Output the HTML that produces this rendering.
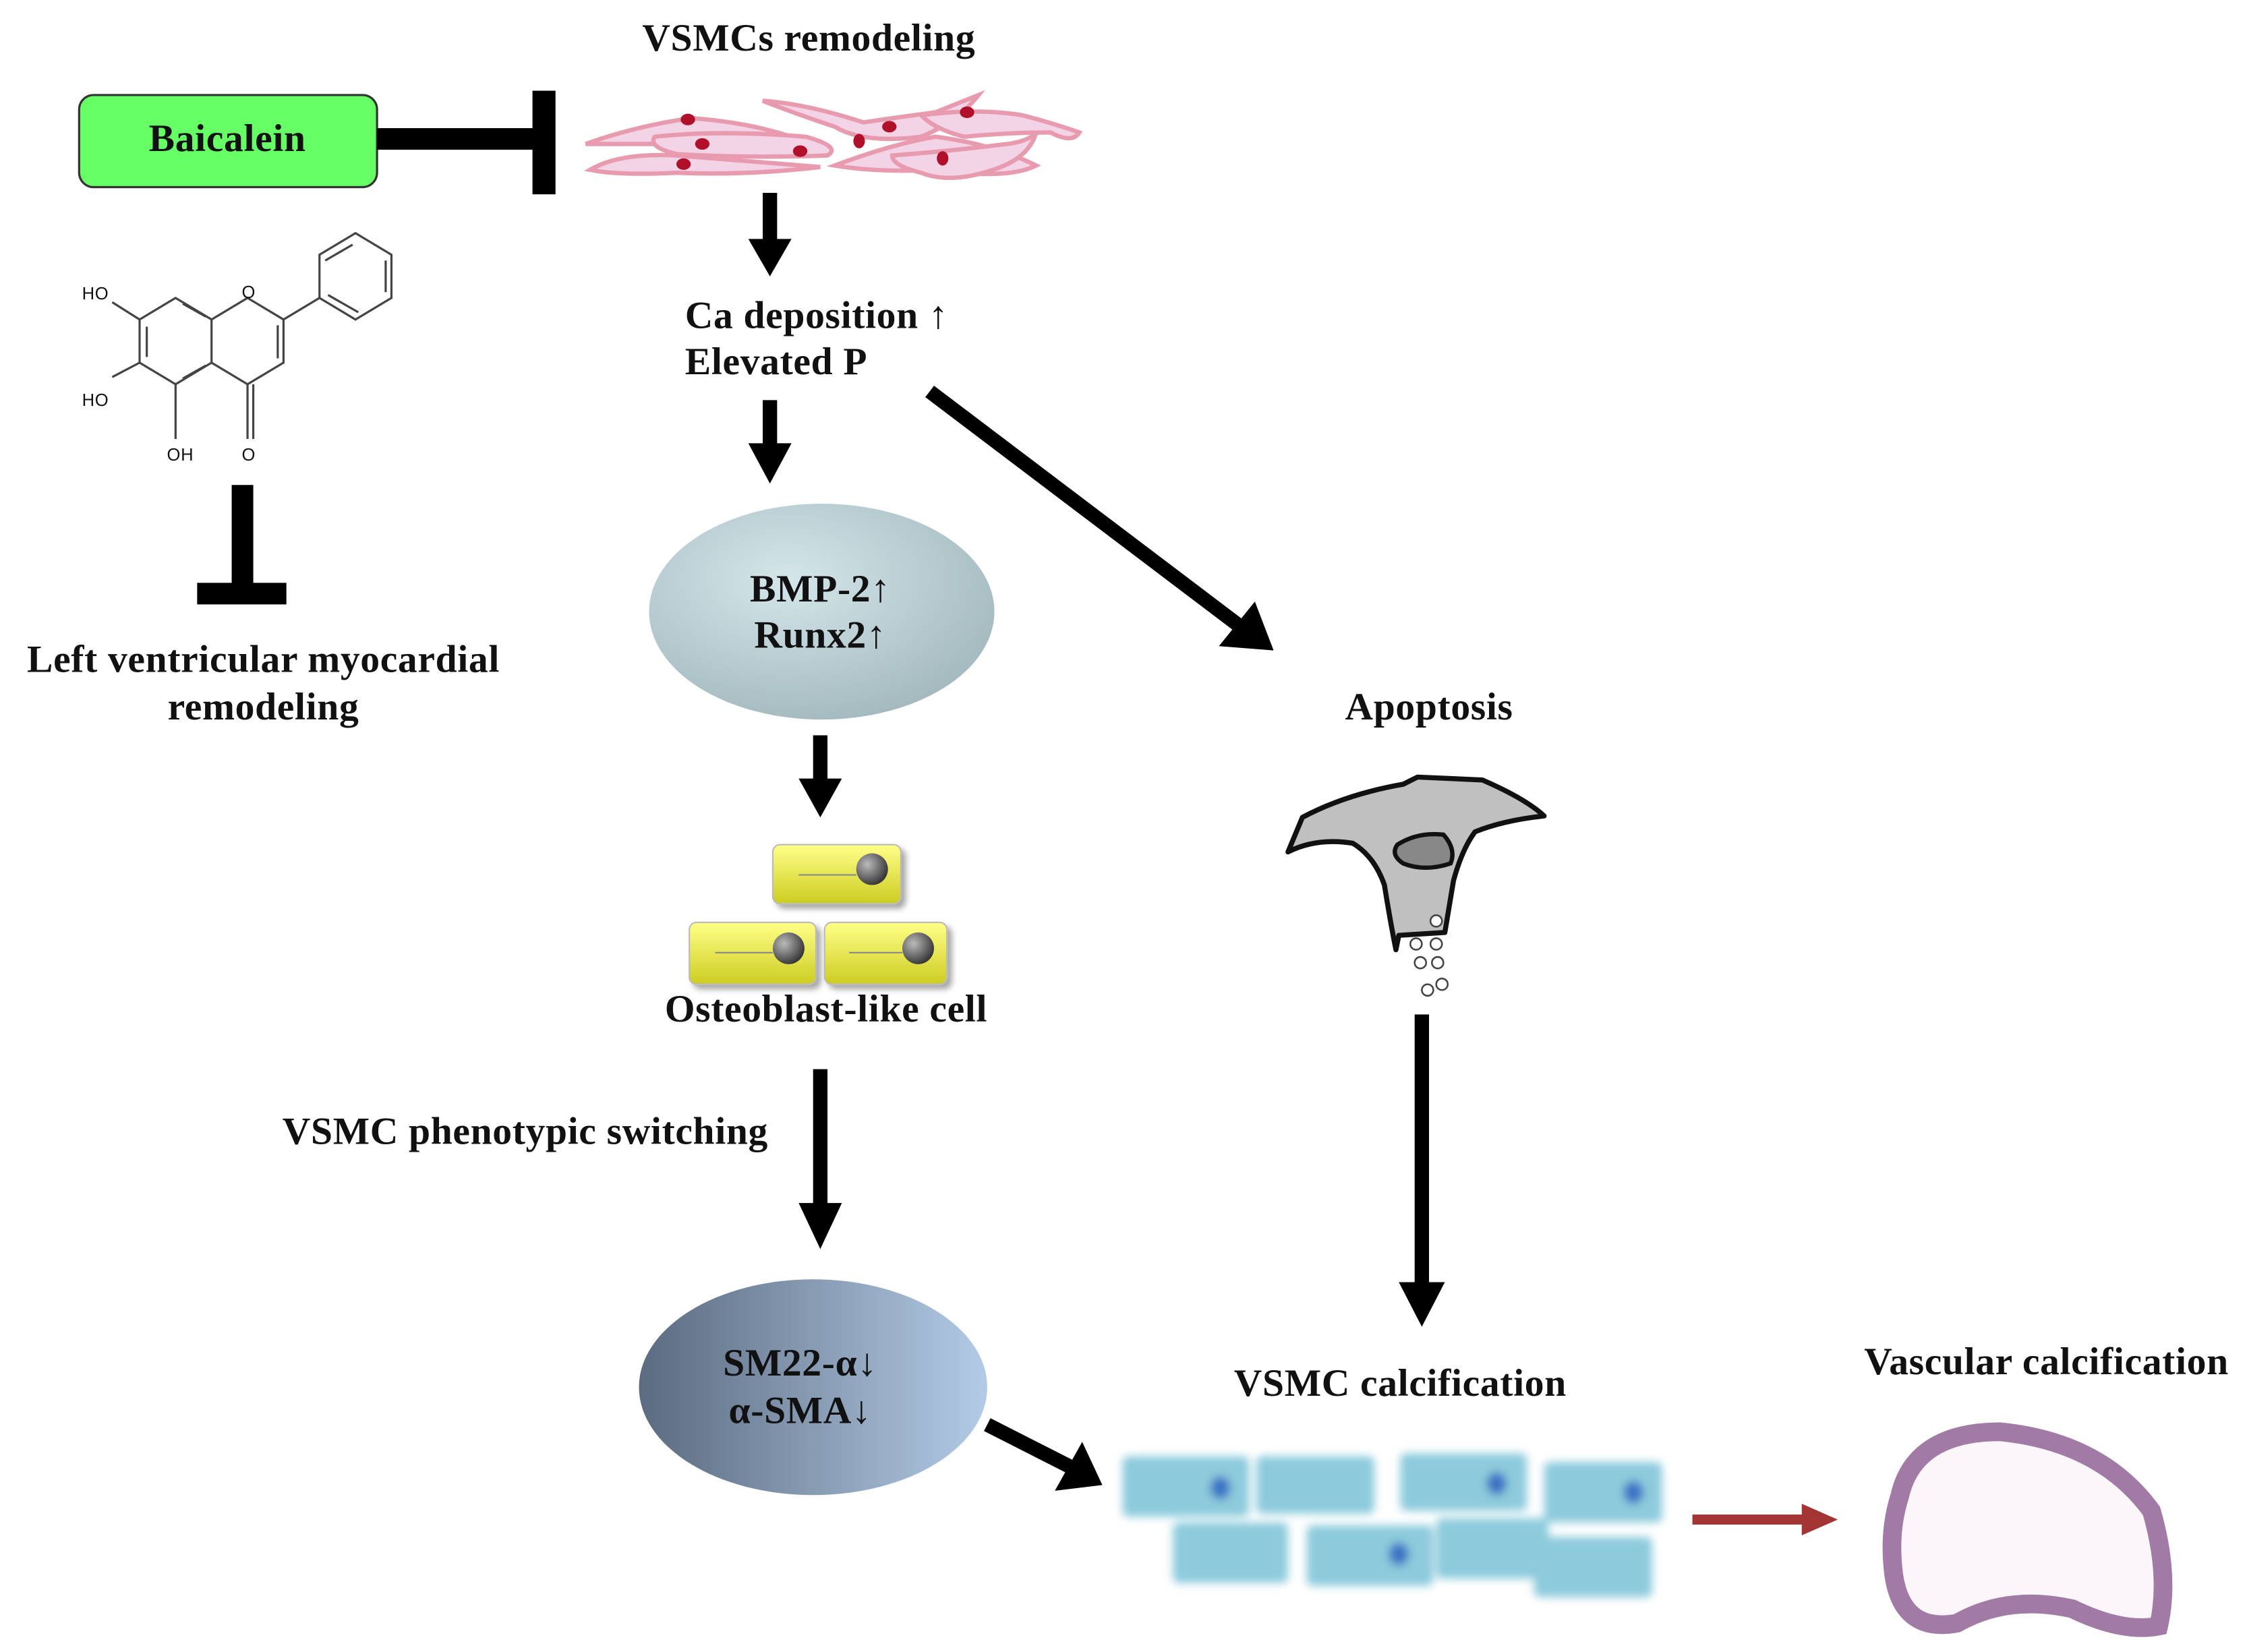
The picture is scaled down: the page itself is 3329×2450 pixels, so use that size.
<!DOCTYPE html>
<html><head><meta charset="utf-8"><style>
html,body{margin:0;padding:0;background:#fff;}
svg{display:block;}
text{font-family:"Liberation Serif",serif;font-weight:bold;fill:#111;letter-spacing:0.3px;}
</style></head><body>
<svg width="3329" height="2450" viewBox="0 0 1560 1148" xmlns="http://www.w3.org/2000/svg">
<defs>
<radialGradient id="g1" cx="0.4" cy="0.35" r="0.75"><stop offset="0" stop-color="#d4e6ea"/><stop offset="1" stop-color="#9fb5bb"/></radialGradient>
<linearGradient id="g2" x1="0" x2="1"><stop offset="0" stop-color="#5b6b80"/><stop offset="1" stop-color="#b3cbe6"/></linearGradient>
<linearGradient id="gy" x1="0" y1="0" x2="0" y2="1"><stop offset="0" stop-color="#ffff88"/><stop offset="1" stop-color="#cccc22"/></linearGradient>
<radialGradient id="gs" cx="0.35" cy="0.35" r="0.7"><stop offset="0" stop-color="#bbb"/><stop offset="1" stop-color="#333"/></radialGradient>
<filter id="bl"><feGaussianBlur stdDeviation="3"/></filter>
<filter id="sh"><feDropShadow dx="3" dy="3" stdDeviation="2" flood-opacity="0.35"/></filter>
</defs>

<text x="562" y="35" font-size="27" text-anchor="middle">VSMCs remodeling</text>

<rect x="55" y="66" width="207" height="64" rx="10" fill="#66ff66" stroke="#333" stroke-width="1.5"/>
<text x="158" y="105" font-size="27" text-anchor="middle">Baicalein</text>
<rect x="262" y="89" width="110" height="15" fill="#000"/>
<rect x="370" y="63" width="16" height="72" fill="#000"/>

<g fill="#f3d3e6" stroke="#e89aae" stroke-width="3">
<path d="M407,100 Q440,88 480,82 Q520,85 550,95 Q520,104 480,100 Q440,100 407,100z"/>
<path d="M455,95 Q500,90 560,95 Q585,102 575,108 Q520,110 470,107 Q450,102 455,95z"/>
<path d="M410,118 Q430,106 470,108 Q520,112 570,116 Q520,122 470,120 Q430,122 410,118z"/>
<path d="M530,70 Q560,72 600,85 Q620,82 650,78 Q670,70 680,66 Q665,85 640,95 Q600,100 580,88 Q550,78 530,70z"/>
<path d="M580,115 Q620,100 650,95 Q690,100 720,115 Q700,125 650,118 Q610,120 580,115z"/>
<path d="M640,80 Q680,75 710,80 Q730,85 750,92 Q745,100 730,92 Q700,92 670,95 Q650,90 640,80z"/>
<path d="M620,108 Q660,105 700,100 Q715,98 720,92 Q715,110 690,118 Q660,128 640,120 Q620,115 620,108z"/>
</g>
<g fill="#b0102a">
<ellipse cx="478" cy="83" rx="5" ry="4"/><ellipse cx="488" cy="100" rx="5" ry="4"/><ellipse cx="475" cy="114" rx="5" ry="4"/>
<ellipse cx="597" cy="98" rx="4" ry="5"/><ellipse cx="618" cy="88" rx="5" ry="4"/><ellipse cx="672" cy="78" rx="5" ry="4"/>
<ellipse cx="556" cy="105" rx="5" ry="4"/><ellipse cx="655" cy="110" rx="4" ry="5"/>
</g>

<line x1="535" y1="134" x2="535" y2="170" stroke="#000" stroke-width="10"/>
<path d="M520,166 L550,166 L535,192z" fill="#000"/>
<text x="476" y="228" font-size="27">Ca deposition ↑</text>
<text x="476" y="260" font-size="27">Elevated P</text>
<line x1="535" y1="278" x2="535" y2="312" stroke="#000" stroke-width="10"/>
<path d="M520,308 L550,308 L535,336z" fill="#000"/>
<line x1="646" y1="272" x2="860" y2="434" stroke="#000" stroke-width="10"/>
<path d="M847,449 L872,418 L885,452z" fill="#000"/>

<ellipse cx="571" cy="425" rx="120" ry="75" fill="url(#g1)"/>
<text x="570" y="418" font-size="27" text-anchor="middle">BMP-2↑</text>
<text x="570" y="450" font-size="27" text-anchor="middle">Runx2↑</text>

<g stroke="#444" stroke-width="1.5" fill="none">
<path d="M97,222 L122,207 L147,222 L147,252 L122,267 L97,252 z"/>
<path d="M102,227 L102,248 M127,211 L143,220 M127,263 L143,254"/>
<path d="M147,222 L172,207 L197,222 L197,252 L172,267 L147,252"/>
<path d="M193,226 L193,249"/>
<path d="M197,222 L222,207"/>
<path d="M222,207 L222,177 L247,162 L272,177 L272,207 L247,222 z"/>
<path d="M226,181 L245,170 M268,181 L268,203 M249,217 L228,205"/>
<path d="M172,267 L172,305 M176,267 L176,305"/>
<path d="M122,267 L122,305"/>
<path d="M97,252 L78,262"/>
<path d="M97,222 L78,210"/>
</g>
<g>
<text x="57" y="208" style="font-family:'Liberation Sans',sans-serif;font-weight:normal;font-size:12px">HO</text>
<text x="57" y="282" style="font-family:'Liberation Sans',sans-serif;font-weight:normal;font-size:12px">HO</text>
<text x="116" y="320" style="font-family:'Liberation Sans',sans-serif;font-weight:normal;font-size:12px">OH</text>
<text x="168" y="320" style="font-family:'Liberation Sans',sans-serif;font-weight:normal;font-size:12px">O</text>
<text x="168" y="207" style="font-family:'Liberation Sans',sans-serif;font-weight:normal;font-size:12px">O</text>
</g>

<rect x="161" y="337" width="15" height="72" fill="#000"/>
<rect x="137" y="405" width="62" height="15" fill="#000"/>
<text x="183" y="467" font-size="27" text-anchor="middle">Left ventricular myocardial</text>
<text x="183" y="500" font-size="27" text-anchor="middle">remodeling</text>

<line x1="570" y1="511" x2="570" y2="545" stroke="#000" stroke-width="10"/>
<path d="M555,541 L585,541 L570,568z" fill="#000"/>

<g filter="url(#sh)">
<rect x="537" y="587" width="89" height="41" rx="5" fill="url(#gy)" stroke="#bbb"/>
<rect x="479" y="641" width="88" height="43" rx="5" fill="url(#gy)" stroke="#bbb"/>
<rect x="573" y="641" width="85" height="43" rx="5" fill="url(#gy)" stroke="#bbb"/>
</g>
<g stroke="#888" stroke-width="1"><line x1="555" y1="608" x2="595" y2="608"/><line x1="497" y1="662" x2="537" y2="662"/><line x1="590" y1="662" x2="627" y2="662"/></g>
<circle cx="606" cy="604" r="11" fill="url(#gs)"/>
<circle cx="548" cy="659" r="11" fill="url(#gs)"/>
<circle cx="638" cy="659" r="11" fill="url(#gs)"/>
<text x="574" y="710" font-size="27" text-anchor="middle">Osteoblast-like cell</text>

<line x1="570" y1="743" x2="570" y2="840" stroke="#000" stroke-width="10"/>
<path d="M555,836 L585,836 L570,868z" fill="#000"/>
<text x="365" y="795" font-size="27" text-anchor="middle">VSMC phenotypic switching</text>

<ellipse cx="565" cy="964" rx="121" ry="75" fill="url(#g2)"/>
<text x="556" y="956" font-size="27" text-anchor="middle">SM22-α↓</text>
<text x="556" y="989" font-size="27" text-anchor="middle">α-SMA↓</text>
<line x1="686" y1="990" x2="745" y2="1020" stroke="#000" stroke-width="10"/>
<path d="M733,1036 L752,1002 L766,1032z" fill="#000"/>

<text x="993" y="500" font-size="27" text-anchor="middle">Apoptosis</text>
<path d="M895,592 L905,568 Q935,552 975,545 L985,540 L1030,542 Q1060,555 1073,567 Q1045,570 1025,578 Q1016,590 1010,612 L1004,648 L972,650 L970,660 Q966,640 962,615 Q955,595 940,586 Q915,582 895,592z" fill="#c0c0c0" stroke="#111" stroke-width="3.5" stroke-linejoin="round"/>
<path d="M971,587 Q985,578 1003,580 Q1012,590 1008,600 Q990,606 975,600 Q966,594 971,587z" fill="#888" stroke="#111" stroke-width="3"/>
<g fill="#fff" stroke="#444" stroke-width="1.2">
<circle cx="998" cy="640" r="4"/><circle cx="984" cy="656" r="4"/><circle cx="998" cy="656" r="4"/>
<circle cx="987" cy="669" r="4"/><circle cx="999" cy="669" r="4"/><circle cx="992" cy="688" r="4"/><circle cx="1002" cy="684" r="4"/>
</g>
<line x1="988" y1="705" x2="988" y2="895" stroke="#000" stroke-width="10"/>
<path d="M972,891 L1004,891 L988,922z" fill="#000"/>

<text x="973" y="970" font-size="27" text-anchor="middle">VSMC calcification</text>

<g filter="url(#bl)" fill="#8ccbdc">
<rect x="780" y="1012" width="88" height="42" rx="4"/>
<rect x="873" y="1012" width="82" height="40" rx="4"/>
<rect x="973" y="1010" width="88" height="40" rx="4"/>
<rect x="1073" y="1016" width="82" height="42" rx="4"/>
<rect x="815" y="1058" width="80" height="42" rx="4"/>
<rect x="908" y="1060" width="88" height="42" rx="4"/>
<rect x="998" y="1055" width="78" height="42" rx="4"/>
<rect x="1066" y="1068" width="82" height="42" rx="4"/>
<ellipse cx="848" cy="1034" rx="7" ry="8" fill="#3b73c4"/>
<ellipse cx="1040" cy="1031" rx="7" ry="8" fill="#3b73c4"/>
<ellipse cx="1135" cy="1037" rx="7" ry="8" fill="#3b73c4"/>
<ellipse cx="972" cy="1080" rx="7" ry="8" fill="#3b73c4"/>
</g>

<line x1="1176" y1="1056" x2="1255" y2="1056" stroke="#a33434" stroke-width="7"/>
<path d="M1252,1045 L1277,1056 L1252,1067z" fill="#a33434"/>

<text x="1422" y="955" font-size="27" text-anchor="middle">Vascular calcification</text>
<path d="M1320,1040 Q1330,995 1390,995 Q1460,1002 1495,1050 Q1508,1095 1500,1130 Q1475,1135 1440,1118 Q1395,1108 1360,1128 Q1322,1135 1316,1095 Q1312,1065 1320,1040z" fill="#fbf6fa" stroke="#a27aa6" stroke-width="13"/>
</svg>
</body></html>
